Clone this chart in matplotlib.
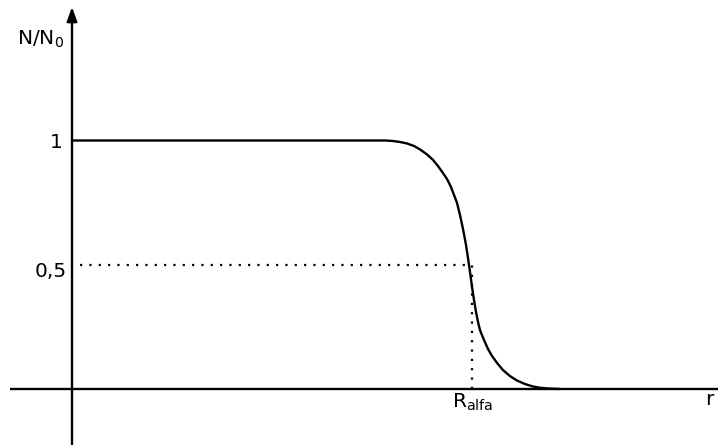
import matplotlib
matplotlib.use("Agg")
import matplotlib.pyplot as plt

# Curve (r in arbitrary units, N/N0)
r_vals = [0.00, 1.00, 2.00, 3.00, 3.13, 3.21, 3.28, 3.35, 3.42, 3.48, 3.55, 3.61,
          3.66, 3.71, 3.75, 3.79, 3.82, 3.85, 3.88, 3.91, 3.94, 3.96, 3.98, 4.00,
          4.02, 4.04, 4.06, 4.08, 4.12, 4.16, 4.20, 4.25, 4.31, 4.38, 4.45, 4.53,
          4.61, 4.68, 4.76, 4.88]
n_vals = [1.000, 1.000, 1.000, 1.000, 1.000, 0.998, 0.994, 0.988, 0.978, 0.964, 0.944, 0.922,
          0.897, 0.869, 0.845, 0.813, 0.781, 0.749, 0.700, 0.644, 0.580, 0.527, 0.471, 0.411,
          0.358, 0.310, 0.270, 0.237, 0.197, 0.161, 0.133, 0.105, 0.076, 0.052, 0.034, 0.020,
          0.010, 0.005, 0.002, 0.000]

r_alfa = 4.0
half_level = 0.5
tick_values = [1.0, 0.5]
tick_labels = ["1", "0,5"]

plt.rcParams['font.family'] = ['DejaVu Sans']
plt.rcParams['mathtext.fontset'] = 'dejavusans'

fig = plt.figure(figsize=(7.18, 4.45), dpi=100)
ax = fig.add_axes([0, 0, 1, 1])
ax.set_xlim(-0.72, 6.46)
ax.set_ylim(-0.2254, 1.5654)
ax.axis('off')

lw = 1.7
# axes
ax.plot([-0.62, 6.46], [0, 0], color='black', lw=lw, solid_capstyle='butt')
ax.annotate('', xy=(0, 1.537), xytext=(0, -0.23),
            arrowprops=dict(arrowstyle='-|>,head_length=0.6,head_width=0.22',
                            lw=lw, color='black', mutation_scale=14,
                            shrinkA=0, shrinkB=0))

# curve
ax.plot(r_vals, n_vals, color='black', lw=lw, solid_joinstyle='round',
        solid_capstyle='round')

# dotted guides
dot = (0, (1, 3.2))
ax.plot([0.08, r_alfa], [half_level, half_level], color='black', lw=1.6, linestyle=dot)
ax.plot([r_alfa, r_alfa], [0, half_level], color='black', lw=1.6, linestyle=dot)

# tick labels
fs = 14.5
ax.annotate(tick_labels[0], xy=(-0.09, tick_values[0]), ha='right', va='center_baseline',
            fontsize=fs, xytext=(0, 0), textcoords='offset points')
ax.annotate(tick_labels[1], xy=(-0.05, tick_values[1]), ha='right', va='center_baseline',
            fontsize=fs, xytext=(0, -3.5), textcoords='offset points')

ax.text(-0.55, 1.384, r'N/N$_0$', ha='left', va='baseline', fontsize=fs)
ax.text(3.80, -0.076, r'R$_{\mathrm{alfa}}$', ha='left', va='baseline', fontsize=fs)
ax.text(6.33, -0.064, 'r', ha='left', va='baseline', fontsize=fs)

fig.savefig('out.png', dpi=100)
